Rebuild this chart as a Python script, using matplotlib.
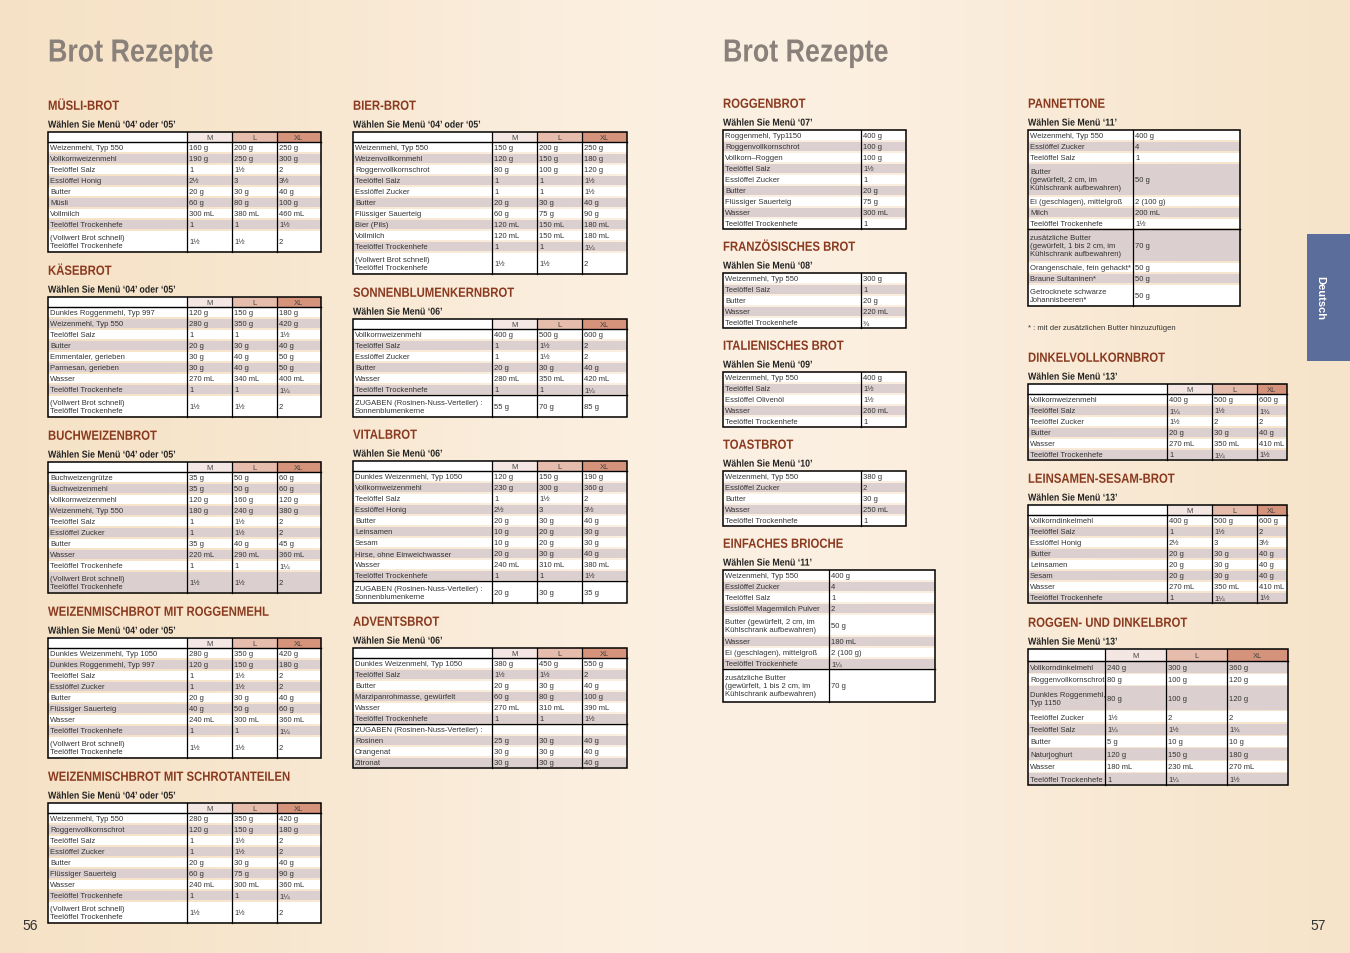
import matplotlib
matplotlib.use("Agg")
import matplotlib.pyplot as plt
import numpy as np
from matplotlib.font_manager import FontProperties
from matplotlib.patches import PathPatch, Rectangle
from matplotlib.text import TextPath
from matplotlib.transforms import Affine2D

W, H = 1350, 954
TITLE = "Brot Rezepte"
SIZES = ["M", "L", "XL"]

# ---- recipe data ----
MUESLI_ITEMS = ["Weizenmehl, Typ 550", "Vollkornweizenmehl", "Teelöffel Salz", "Esslöffel Honig", "Butter",
                "Müsli", "Vollmilch", "Teelöffel Trockenhefe", "(Vollwert Brot schnell)\nTeelöffel Trockenhefe"]
MUESLI_M = ["160 g", "190 g", "1", "2½", "20 g", "60 g", "300 mL", "1", "1½"]
MUESLI_L = ["200 g", "250 g", "1½", "3", "30 g", "80 g", "380 mL", "1", "1½"]
MUESLI_XL = ["250 g", "300 g", "2", "3½", "40 g", "100 g", "460 mL", "1½", "2"]

KAESE_ITEMS = ["Dunkles Roggenmehl, Typ 997", "Weizenmehl, Typ 550", "Teelöffel Salz", "Butter",
               "Emmentaler, gerieben", "Parmesan, gerieben", "Wasser", "Teelöffel Trockenhefe",
               "(Vollwert Brot schnell)\nTeelöffel Trockenhefe"]
KAESE_M = ["120 g", "280 g", "1", "20 g", "30 g", "30 g", "270 mL", "1", "1½"]
KAESE_L = ["150 g", "350 g", "1", "30 g", "40 g", "40 g", "340 mL", "1", "1½"]
KAESE_XL = ["180 g", "420 g", "1½", "40 g", "50 g", "50 g", "400 mL", "1¼", "2"]

BUCH_ITEMS = ["Buchweizengrütze", "Buchweizenmehl", "Vollkornweizenmehl", "Weizenmehl, Typ 550", "Teelöffel Salz",
              "Esslöffel Zucker", "Butter", "Wasser", "Teelöffel Trockenhefe",
              "(Vollwert Brot schnell)\nTeelöffel Trockenhefe"]
BUCH_M = ["35 g", "35 g", "120 g", "180 g", "1", "1", "35 g", "220 mL", "1", "1½"]
BUCH_L = ["50 g", "50 g", "160 g", "240 g", "1½", "1½", "40 g", "290 mL", "1", "1½"]
BUCH_XL = ["60 g", "60 g", "120 g", "380 g", "2", "2", "45 g", "360 mL", "1¼", "2"]

WROGG_ITEMS = ["Dunkles Weizenmehl, Typ 1050", "Dunkles Roggenmehl, Typ 997", "Teelöffel Salz", "Esslöffel Zucker",
               "Butter", "Flüssiger Sauerteig", "Wasser", "Teelöffel Trockenhefe",
               "(Vollwert Brot schnell)\nTeelöffel Trockenhefe"]
WROGG_M = ["280 g", "120 g", "1", "1", "20 g", "40 g", "240 mL", "1", "1½"]
WROGG_L = ["350 g", "150 g", "1½", "1½", "30 g", "50 g", "300 mL", "1", "1½"]
WROGG_XL = ["420 g", "180 g", "2", "2", "40 g", "60 g", "360 mL", "1¼", "2"]

SCHROT_ITEMS = ["Weizenmehl, Typ 550", "Roggenvollkornschrot", "Teelöffel Salz", "Esslöffel Zucker", "Butter",
                "Flüssiger Sauerteig", "Wasser", "Teelöffel Trockenhefe",
                "(Vollwert Brot schnell)\nTeelöffel Trockenhefe"]
SCHROT_M = ["280 g", "120 g", "1", "1", "20 g", "60 g", "240 mL", "1", "1½"]
SCHROT_L = ["350 g", "150 g", "1½", "1½", "30 g", "75 g", "300 mL", "1", "1½"]
SCHROT_XL = ["420 g", "180 g", "2", "2", "40 g", "90 g", "360 mL", "1¼", "2"]

BIER_ITEMS = ["Weizenmehl, Typ 550", "Weizenvollkornmehl", "Roggenvollkornschrot", "Teelöffel Salz",
              "Esslöffel Zucker", "Butter", "Flüssiger Sauerteig", "Bier (Pils)", "Vollmilch",
              "Teelöffel Trockenhefe", "(Vollwert Brot schnell)\nTeelöffel Trockenhefe"]
BIER_M = ["150 g", "120 g", "80 g", "1", "1", "20 g", "60 g", "120 mL", "120 mL", "1", "1½"]
BIER_L = ["200 g", "150 g", "100 g", "1", "1", "30 g", "75 g", "150 mL", "150 mL", "1", "1½"]
BIER_XL = ["250 g", "180 g", "120 g", "1½", "1½", "40 g", "90 g", "180 mL", "180 mL", "1¼", "2"]

SONNE_ITEMS = ["Vollkornweizenmehl", "Teelöffel Salz", "Esslöffel Zucker", "Butter", "Wasser",
               "Teelöffel Trockenhefe", "ZUGABEN (Rosinen-Nuss-Verteiler) :\nSonnenblumenkerne"]
SONNE_M = ["400 g", "1", "1", "20 g", "280 mL", "1", "55 g"]
SONNE_L = ["500 g", "1½", "1½", "30 g", "350 mL", "1", "70 g"]
SONNE_XL = ["600 g", "2", "2", "40 g", "420 mL", "1¼", "85 g"]

VITAL_ITEMS = ["Dunkles Weizenmehl, Typ 1050", "Vollkornweizenmehl", "Teelöffel Salz", "Esslöffel Honig", "Butter",
               "Leinsamen", "Sesam", "Hirse, ohne Einweichwasser", "Wasser", "Teelöffel Trockenhefe",
               "ZUGABEN (Rosinen-Nuss-Verteiler) :\nSonnenblumenkerne"]
VITAL_M = ["120 g", "230 g", "1", "2½", "20 g", "10 g", "10 g", "20 g", "240 mL", "1", "20 g"]
VITAL_L = ["150 g", "300 g", "1½", "3", "30 g", "20 g", "20 g", "30 g", "310 mL", "1", "30 g"]
VITAL_XL = ["190 g", "360 g", "2", "3½", "40 g", "30 g", "30 g", "40 g", "380 mL", "1½", "35 g"]

ADVENT_ITEMS = ["Dunkles Weizenmehl, Typ 1050", "Teelöffel Salz", "Butter", "Marzipanrohmasse, gewürfelt", "Wasser",
                "Teelöffel Trockenhefe", "ZUGABEN (Rosinen-Nuss-Verteiler) :", "Rosinen", "Orangenat", "Zitronat"]
ADVENT_M = ["380 g", "1½", "20 g", "60 g", "270 mL", "1", "", "25 g", "30 g", "30 g"]
ADVENT_L = ["450 g", "1½", "30 g", "80 g", "310 mL", "1", "", "30 g", "30 g", "30 g"]
ADVENT_XL = ["550 g", "2", "40 g", "100 g", "390 mL", "1½", "", "40 g", "40 g", "40 g"]

ROGGEN_ITEMS = ["Roggenmehl, Typ1150", "Roggenvollkornschrot", "Vollkorn–Roggen", "Teelöffel Salz",
                "Esslöffel Zucker", "Butter", "Flüssiger Sauerteig", "Wasser", "Teelöffel Trockenhefe"]
ROGGEN_AMT = ["400 g", "100 g", "100 g", "1½", "1", "20 g", "75 g", "300 mL", "1"]

FRANZ_ITEMS = ["Weizenmehl, Typ 550", "Teelöffel Salz", "Butter", "Wasser", "Teelöffel Trockenhefe"]
FRANZ_AMT = ["300 g", "1", "20 g", "220 mL", "¾"]

ITAL_ITEMS = ["Weizenmehl, Typ 550", "Teelöffel Salz", "Esslöffel Olivenöl", "Wasser", "Teelöffel Trockenhefe"]
ITAL_AMT = ["400 g", "1½", "1½", "260 mL", "1"]

TOAST_ITEMS = ["Weizenmehl, Typ 550", "Esslöffel Zucker", "Butter", "Wasser", "Teelöffel Trockenhefe"]
TOAST_AMT = ["380 g", "2", "30 g", "250 mL", "1"]

BRIOCHE_ITEMS = ["Weizenmehl, Typ 550", "Esslöffel Zucker", "Teelöffel Salz", "Esslöffel Magermilch Pulver",
                 "Butter (gewürfelt, 2 cm, im\nKühlschrank aufbewahren)", "Wasser", "Ei (geschlagen), mittelgroß",
                 "Teelöffel Trockenhefe", "zusätzliche Butter\n(gewürfelt, 1 bis 2 cm, im\nKühlschrank aufbewahren)"]
BRIOCHE_AMT = ["400 g", "4", "1", "2", "50 g", "180 mL", "2 (100 g)", "1¼", "70 g"]

PANNE_ITEMS = ["Weizenmehl, Typ 550", "Esslöffel Zucker", "Teelöffel Salz",
               "Butter\n(gewürfelt, 2 cm, im\nKühlschrank aufbewahren)", "Ei (geschlagen), mittelgroß", "Milch",
               "Teelöffel Trockenhefe", "zusätzliche Butter\n(gewürfelt, 1 bis 2 cm, im\nKühlschrank aufbewahren)",
               "Orangenschale, fein gehackt*", "Braune Sultaninen*", "Getrocknete schwarze\nJohannisbeeren*"]
PANNE_AMT = ["400 g", "4", "1", "50 g", "2 (100 g)", "200 mL", "1½", "70 g", "50 g", "50 g", "50 g"]
PANNE_NOTE = "* : mit der zusätzlichen Butter hinzuzufügen"

DINKEL_ITEMS = ["Vollkornweizenmehl", "Teelöffel Salz", "Teelöffel Zucker", "Butter", "Wasser",
                "Teelöffel Trockenhefe"]
DINKEL_M = ["400 g", "1¼", "1½", "20 g", "270 mL", "1"]
DINKEL_L = ["500 g", "1½", "2", "30 g", "350 mL", "1¼"]
DINKEL_XL = ["600 g", "1¾", "2", "40 g", "410 mL", "1½"]

LEIN_ITEMS = ["Vollkorndinkelmehl", "Teelöffel Salz", "Esslöffel Honig", "Butter", "Leinsamen", "Sesam",
              "Wasser", "Teelöffel Trockenhefe"]
LEIN_M = ["400 g", "1", "2½", "20 g", "20 g", "20 g", "270 mL", "1"]
LEIN_L = ["500 g", "1½", "3", "30 g", "30 g", "30 g", "350 mL", "1¼"]
LEIN_XL = ["600 g", "2", "3½", "40 g", "40 g", "40 g", "410 mL", "1½"]

RDINK_ITEMS = ["Vollkorndinkelmehl", "Roggenvollkornschrot", "Dunkles Roggenmehl,\nTyp 1150", "Teelöffel Zucker",
               "Teelöffel Salz", "Butter", "Naturjoghurt", "Wasser", "Teelöffel Trockenhefe"]
RDINK_M = ["240 g", "80 g", "80 g", "1½", "1¼", "5 g", "120 g", "180 mL", "1"]
RDINK_L = ["300 g", "100 g", "100 g", "2", "1½", "10 g", "150 g", "230 mL", "1¼"]
RDINK_XL = ["360 g", "120 g", "120 g", "2", "1¾", "10 g", "180 g", "270 mL", "1½"]

# ---- styles ----
HEAD_COL = "#8a3a1f"
SHADE = "#dccfcf"
SIZE_COLS = ["#f4e7e3", "#e6bcad", "#d5937c"]
FONT = "Liberation Sans"
TSIZE = 5.5
BOLD = FontProperties(family="Liberation Sans", weight="bold")

fig = plt.figure(figsize=(W / 100, H / 100), dpi=100)
ax = fig.add_axes([0, 0, 1, 1])
ax.set_xlim(0, W)
ax.set_ylim(H, 0)
ax.axis("off")

# page background: cream with lighter middle
xs = np.linspace(0, 1, 400)
light = np.exp(-((xs - 0.55) / 0.35) ** 2)
c0 = np.array([245, 225, 196]) / 255
c1 = np.array([252, 240, 226]) / 255
grad = c0[None, :] * (1 - light[:, None]) + c1[None, :] * light[:, None]
ax.imshow(grad[None, :, :], extent=[0, W, H, 0], aspect="auto", zorder=0)


def narrow_text(x, y, s, size, color, squeeze=0.85):
    """Bold text squeezed horizontally; y is the vertical centre of the capitals."""
    px = 100 / 72
    path = TextPath((0, 0), s, size=size, prop=BOLD)
    base = y + 0.36 * size * px
    tr = Affine2D().scale(squeeze * px, -px).translate(x, base)
    ax.add_patch(PathPatch(tr.transform_path(path), fc=color, ec="none", zorder=4))


def draw_section(x, y, title, menu):
    narrow_text(x, y, title, 9.6, HEAD_COL, 0.85)
    narrow_text(x, y + 19, menu, 7.2, "#222222", 0.88)


def draw_table(top, edges, items, cols, row_h=11.0, head_h=10.0, header=True, shade_first=False, seps=()):
    x0, x1 = edges[0], edges[-1]
    y = top
    if header:
        ax.add_patch(Rectangle((x0, y), edges[1] - x0, head_h, fc="white", ec="none", zorder=2))
        for i, lab in enumerate(SIZES):
            ax.add_patch(Rectangle((edges[i + 1], y), edges[i + 2] - edges[i + 1], head_h,
                                   fc=SIZE_COLS[i], ec="none", zorder=2))
            ax.text((edges[i + 1] + edges[i + 2]) / 2, y + head_h / 2 + 0.5, lab, fontsize=TSIZE,
                    family=FONT, color="#444444", ha="center", va="center", zorder=4)
        y += head_h
        ax.plot([x0, x1], [y, y], color="black", lw=1.0, zorder=4)
    for r, item in enumerate(items):
        nl = item.count("\n") + 1
        h = row_h * nl
        shaded = (r % 2 == 1) != shade_first
        ax.add_patch(Rectangle((x0, y + 0.6), x1 - x0, h - 1.2, fc=SHADE if shaded else "white",
                               ec="none", zorder=2))
        ax.text(x0 + 2, y + h / 2 + 0.3, item, fontsize=TSIZE, family=FONT, color="#333333",
                va="center", linespacing=1.2, zorder=4)
        for c, col in enumerate(cols):
            ax.text(edges[c + 1] + 2, y + h / 2 + 0.3, col[r], fontsize=TSIZE, family=FONT,
                    color="#333333", va="center", zorder=4)
        if r in seps:
            ax.plot([x0, x1], [y, y], color="black", lw=1.0, zorder=4)
        y += h
    for e in edges[1:-1]:
        ax.plot([e, e], [top, y], color="black", lw=0.9, zorder=4)
    ax.add_patch(Rectangle((x0, top), x1 - x0, y - top, fc="none", ec="black", lw=1.1, zorder=5))


# titles
for tx in (48, 723):
    narrow_text(tx, 51, TITLE, 23, "#8a817b", 0.84)

LEFT = [48, 187, 232, 277, 321]
MID = [353, 492, 537, 582, 627]
MENU45 = "Wählen Sie Menü ‘04’ oder ‘05’"

draw_section(48, 106, "MÜSLI-BROT", MENU45)
draw_table(133, LEFT, MUESLI_ITEMS, [MUESLI_M, MUESLI_L, MUESLI_XL])
draw_section(48, 271, "KÄSEBROT", MENU45)
draw_table(298, LEFT, KAESE_ITEMS, [KAESE_M, KAESE_L, KAESE_XL])
draw_section(48, 436, "BUCHWEIZENBROT", MENU45)
draw_table(463, LEFT, BUCH_ITEMS, [BUCH_M, BUCH_L, BUCH_XL])
draw_section(48, 612, "WEIZENMISCHBROT MIT ROGGENMEHL", MENU45)
draw_table(639, LEFT, WROGG_ITEMS, [WROGG_M, WROGG_L, WROGG_XL])
draw_section(48, 777, "WEIZENMISCHBROT MIT SCHROTANTEILEN", MENU45)
draw_table(804, LEFT, SCHROT_ITEMS, [SCHROT_M, SCHROT_L, SCHROT_XL])

draw_section(353, 106, "BIER-BROT", MENU45)
draw_table(133, MID, BIER_ITEMS, [BIER_M, BIER_L, BIER_XL])
draw_section(353, 293, "SONNENBLUMENKERNBROT", "Wählen Sie Menü ‘06’")
draw_table(320, MID, SONNE_ITEMS, [SONNE_M, SONNE_L, SONNE_XL], seps=(6,))
draw_section(353, 435, "VITALBROT", "Wählen Sie Menü ‘06’")
draw_table(462, MID, VITAL_ITEMS, [VITAL_M, VITAL_L, VITAL_XL], seps=(10,))
draw_section(353, 622, "ADVENTSBROT", "Wählen Sie Menü ‘06’")
draw_table(649, MID, ADVENT_ITEMS, [ADVENT_M, ADVENT_L, ADVENT_XL], seps=(6,))

R1 = [723, 861, 906]
draw_section(723, 104, "ROGGENBROT", "Wählen Sie Menü ‘07’")
draw_table(131, R1, ROGGEN_ITEMS, [ROGGEN_AMT], header=False)
draw_section(723, 247, "FRANZÖSISCHES BROT", "Wählen Sie Menü ‘08’")
draw_table(274, R1, FRANZ_ITEMS, [FRANZ_AMT], header=False)
draw_section(723, 346, "ITALIENISCHES BROT", "Wählen Sie Menü ‘09’")
draw_table(373, R1, ITAL_ITEMS, [ITAL_AMT], header=False)
draw_section(723, 445, "TOASTBROT", "Wählen Sie Menü ‘10’")
draw_table(472, R1, TOAST_ITEMS, [TOAST_AMT], header=False)
draw_section(723, 544, "EINFACHES BRIOCHE", "Wählen Sie Menü ‘11’")
draw_table(571, [723, 829, 935], BRIOCHE_ITEMS, [BRIOCHE_AMT], header=False, seps=(8,))

draw_section(1028, 104, "PANNETTONE", "Wählen Sie Menü ‘11’")
draw_table(131, [1028, 1133, 1240], PANNE_ITEMS, [PANNE_AMT], header=False, seps=(7,))
ax.text(1028, 329, PANNE_NOTE, fontsize=TSIZE, family=FONT, color="#333333", va="center")
draw_section(1028, 358, "DINKELVOLLKORNBROT", "Wählen Sie Menü ‘13’")
draw_table(385, [1028, 1167, 1212, 1257, 1287], DINKEL_ITEMS, [DINKEL_M, DINKEL_L, DINKEL_XL])
draw_section(1028, 479, "LEINSAMEN-SESAM-BROT", "Wählen Sie Menü ‘13’")
draw_table(506, [1028, 1167, 1212, 1257, 1287], LEIN_ITEMS, [LEIN_M, LEIN_L, LEIN_XL])
draw_section(1028, 623, "ROGGEN- UND DINKELBROT", "Wählen Sie Menü ‘13’")
draw_table(650, [1028, 1105, 1166, 1227, 1288], RDINK_ITEMS, [RDINK_M, RDINK_L, RDINK_XL],
           row_h=12.4, head_h=12, shade_first=True)

# language tab and page numbers
ax.add_patch(Rectangle((1307, 235), 43, 127, fc="#5a6d9b", ec="none", zorder=3))
ax.text(1320, 298, "Deutsch", rotation=-90, fontsize=8, fontweight="bold", color="white",
        family=FONT, ha="center", va="center", zorder=4)
ax.text(22, 926, "56", fontsize=10, family=FONT, color="#333333", va="center")
ax.text(1310, 926, "57", fontsize=10, family=FONT, color="#333333", va="center")

fig.savefig("out.png", dpi=100)
